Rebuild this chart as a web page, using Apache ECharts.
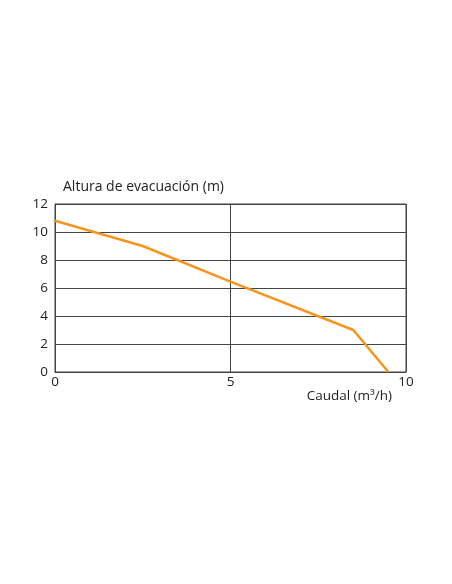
<!DOCTYPE html>
<html><head><meta charset="utf-8">
<script src="https://cdn.jsdelivr.net/npm/echarts@6/dist/echarts.min.js"></script>
<style>html,body{margin:0;padding:0;background:#fff}#c{width:452px;height:584px}</style>
</head><body><div id="c"></div>
<script>
const flow = [0, 2.5, 5, 8.5, 9.5];
const head = [10.8, 9.0, 6.45, 3.0, 0];
const xTicks = [0, 5, 10];
const yTicks = [0, 2, 4, 6, 8, 10, 12];
const yName = 'Altura de evacuación (m)';
const xName = 'Caudal (m³/h)';

const font = '"Open Sans", sans-serif';
const chart = echarts.init(document.getElementById('c'));
chart.setOption({
  animation: false,
  grid: {left: 55, right: 46, top: 204, bottom: 212, show: true, borderColor: '#444', borderWidth: 1},
  xAxis: {
    type: 'value', min: 0, max: 10, interval: 5,
    axisLine: {show: true, lineStyle: {color: '#444'}},
    axisTick: {show: false},
    splitLine: {show: true, lineStyle: {color: '#444', width: 1}},
    axisLabel: {color: '#222', fontSize: 13.5, fontFamily: font, margin: 3,
      formatter: v => xTicks.includes(v) ? String(v) : ''},
    name: xName, nameLocation: 'end', nameGap: 0,
    nameTextStyle: {color: '#222', fontSize: 13.5, fontFamily: font, align: 'right', verticalAlign: 'top', padding: [17, 14, 0, 0]}
  },
  yAxis: {
    type: 'value', min: 0, max: 12, interval: 2,
    axisLine: {show: true, lineStyle: {color: '#444'}},
    axisTick: {show: false},
    splitLine: {show: true, lineStyle: {color: '#444', width: 1}},
    axisLabel: {color: '#222', fontSize: 13.5, fontFamily: font, margin: 7,
      formatter: v => yTicks.includes(v) ? String(v) : ''},
    name: yName, nameLocation: 'end', nameGap: 10,
    nameTextStyle: {color: '#222', fontSize: 14, fontFamily: font, align: 'left', padding: [0, 0, 0, 8]}
  },
  series: [{
    type: 'line', data: flow.map((x, i) => [x, head[i]]),
    showSymbol: false, lineStyle: {color: '#F7941D', width: 2.5}, itemStyle: {color: '#F7941D'}
  }]
});
</script></body></html>
